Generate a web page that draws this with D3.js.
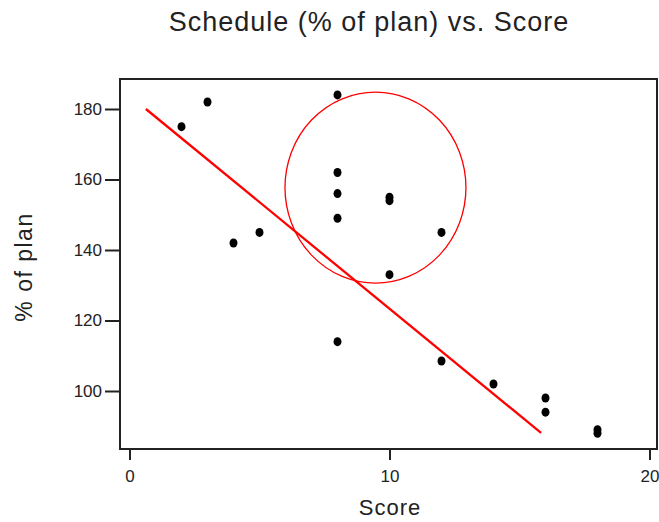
<!DOCTYPE html>
<html><head><meta charset="utf-8">
<script src="https://cdn.jsdelivr.net/npm/d3@7"></script>
<style>body{margin:0;background:#fff}svg{display:block}text{font-family:"Liberation Sans",Arial,sans-serif;fill:#222}</style>
</head><body>
<script>
const scoreX = [2,3,4,5,8,8,8,8,8,10,10,10,12,12,14,16,16,18,18];
const planY  = [175,182,142,145,184,162,156,149,114,155,154,133,145,108.5,102,98,94,89,88];
const fitX = [0.63, 15.83];
const fitY = [180, 88.1];
const circleCenter = [9.46, 157.7];
const circleRadius = [3.48, 27.1];
const xTicks = [0,10,20];
const yTicks = [100,120,140,160,180];

const W=659,H=522;
const svg=d3.select("body").append("svg").attr("width",W).attr("height",H);
const x=d3.scaleLinear().domain([0,20]).range([129.5,649.5]);
const y=d3.scaleLinear().domain([100,180]).range([391,109]);
const L=120,R=657,T=79,B=449;

svg.append("rect").attr("x",L).attr("y",T).attr("width",R-L).attr("height",B-T)
  .attr("fill","none").attr("stroke","#222").attr("stroke-width",2);

const xa=svg.append("g").attr("transform",`translate(0,${B})`)
  .call(d3.axisBottom(x).tickValues(xTicks).tickSize(11).tickPadding(10).tickFormat(d3.format("d")));
xa.select(".domain").remove();
const ya=svg.append("g").attr("transform",`translate(${L},0)`)
  .call(d3.axisLeft(y).tickValues(yTicks).tickSize(15).tickPadding(3).tickFormat(d3.format("d")));
ya.select(".domain").remove();
svg.selectAll(".tick line").attr("stroke","#222").attr("stroke-width",2);
svg.selectAll(".tick text").attr("font-size",17).attr("fill","#222").style("font-family","Liberation Sans, Arial, sans-serif");

svg.append("text").attr("x",369).attr("y",31).attr("text-anchor","middle").attr("font-size",27).attr("letter-spacing",1).text("Schedule (% of plan) vs. Score");
svg.append("text").attr("x",390).attr("y",515).attr("text-anchor","middle").attr("font-size",22).attr("letter-spacing",1).text("Score");
svg.append("text").attr("transform","translate(32,267) rotate(-90)").attr("text-anchor","middle").attr("font-size",23).attr("letter-spacing",1.5).text("% of plan");

svg.append("line").attr("x1",x(fitX[0])).attr("y1",y(fitY[0])).attr("x2",x(fitX[1])).attr("y2",y(fitY[1]))
  .attr("stroke","#ff0000").attr("stroke-width",2.3);

svg.append("ellipse").attr("cx",x(circleCenter[0])).attr("cy",y(circleCenter[1]))
  .attr("rx",x(circleCenter[0]+circleRadius[0])-x(circleCenter[0]))
  .attr("ry",y(circleCenter[1]-circleRadius[1])-y(circleCenter[1]))
  .attr("fill","none").attr("stroke","#ff0000").attr("stroke-width",1.3);

svg.append("g").selectAll("ellipse").data(scoreX.map((d,i)=>[d,planY[i]])).join("ellipse")
  .attr("cx",d=>x(d[0])).attr("cy",d=>y(d[1])).attr("rx",4).attr("ry",4.5).attr("fill","#000");
</script>
</body></html>
